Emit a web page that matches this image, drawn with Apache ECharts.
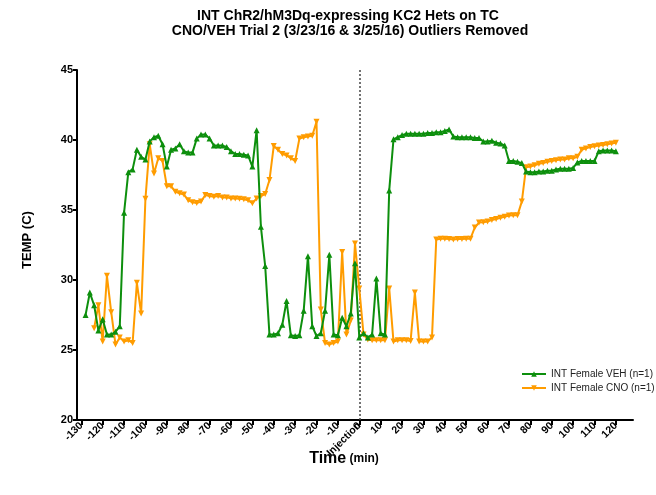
<!DOCTYPE html>
<html>
<head>
<meta charset="utf-8">
<script src="https://cdn.jsdelivr.net/npm/echarts@6/dist/echarts.min.js"></script>
<style>html,body{margin:0;padding:0;background:#fff}#c{width:656px;height:495px}</style>
</head>
<body>
<div id="c"></div>
<script>
// ---- data ----
const times = [-128,-126,-124,-122,-120,-118,-116,-114,-112,-110,-108,-106,-104,-102,-100,-98,-96,-94,-92,-90,-88,-86,-84,-82,-80,-78,-76,-74,-72,-70,-68,-66,-64,-62,-60,-58,-56,-54,-52,-50,-48,-46,-44,-42,-40,-38,-36,-34,-32,-30,-28,-26,-24,-22,-20,-18,-16,-14,-12,-10,-8,-6,-4,-2,
0,2,4,6,8,10,12,14,16,18,20,22,24,26,28,30,32,34,36,38,40,42,44,46,48,50,52,54,56,58,60,62,64,66,68,70,72,74,76,78,80,82,84,86,88,90,92,94,96,98,100,102,104,106,108,110,112,114,116,118,120];

const vehValues = [27.5,29.1,28.2,26.4,27.2,26.1,26.1,26.3,26.7,34.8,37.7,37.9,39.3,38.8,38.6,39.9,40.2,40.3,39.7,38.1,39.3,39.4,39.7,39.2,39.1,39.1,40.1,40.4,40.4,40.1,39.6,39.6,39.6,39.5,39.2,39.0,39.0,38.95,38.9,38.1,40.7,33.8,31.0,26.1,26.1,26.2,26.8,28.5,26.05,26.0,26.05,27.8,31.7,26.7,26.0,26.2,27.8,31.8,26.1,26.05,27.3,26.7,27.6,31.2,
25.9,26.2,25.9,26.1,30.1,26.2,26.1,36.4,40.05,40.2,40.35,40.45,40.45,40.45,40.45,40.45,40.5,40.5,40.55,40.55,40.65,40.75,40.25,40.2,40.2,40.2,40.2,40.15,40.15,39.9,39.9,39.95,39.8,39.75,39.6,38.5,38.5,38.45,38.35,37.75,37.7,37.7,37.75,37.75,37.8,37.8,37.9,37.95,37.95,37.95,38.0,38.4,38.5,38.5,38.5,38.5,39.2,39.25,39.25,39.25,39.2];

const cnoValues = [null,null,26.55,28.2,25.6,30.3,27.7,25.4,25.9,25.6,25.7,25.5,29.8,27.6,35.8,39.7,37.6,38.7,38.5,36.7,36.7,36.3,36.2,36.1,35.7,35.55,35.5,35.6,36.07,36.0,35.95,36.0,35.9,35.9,35.83,35.83,35.8,35.76,35.7,35.48,35.83,36.0,36.14,37.14,39.57,39.3,39.0,38.9,38.7,38.5,40.1,40.2,40.25,40.3,41.3,27.9,25.5,25.4,25.5,25.6,32.0,26.1,27.1,32.6,
29.4,26.1,25.75,25.7,25.7,25.7,25.7,29.4,25.6,25.7,25.7,25.7,25.65,29.1,25.6,25.6,25.6,25.9,32.9,32.95,32.95,32.93,32.9,32.93,32.93,32.95,32.95,33.75,34.1,34.12,34.17,34.29,34.36,34.45,34.52,34.6,34.62,34.62,35.6,38.05,38.1,38.2,38.3,38.35,38.45,38.5,38.55,38.6,38.6,38.7,38.7,38.8,39.3,39.4,39.5,39.55,39.6,39.65,39.7,39.75,39.8];

const xTicks = [-130,-120,-110,-100,-90,-80,-70,-60,-50,-40,-30,-20,-10,0,10,20,30,40,50,60,70,80,90,100,110,120];
const injectionTick = [0];
const seriesNames = ['INT Female VEH (n=1)', 'INT Female CNO (n=1)'];
const titleLines = ['INT ChR2/hM3Dq-expressing KC2 Hets on TC', 'CNO/VEH Trial 2 (3/23/16 & 3/25/16) Outliers Removed'];

// ---- chart ----
const FONT = 'Liberation Sans, Arial, Helvetica, sans-serif';
const GREEN = '#0d8f0d';
const ORANGE = '#ff9c00';
const pairs = (vals) => times.map((t, i) => [t, vals[i]]);

const chart = echarts.init(document.getElementById('c'), null, {renderer: 'canvas'});
chart.setOption({
  animation: false,
  backgroundColor: '#fff',
  textStyle: {fontFamily: FONT},
  grid: {left: 77, top: 70, right: 23, bottom: 75, containLabel: false},
  xAxis: [{
    type: 'value', min: -132, max: 128, position: 'bottom',
    splitLine: {show: false},
    axisLine: {show: true, onZero: false, lineStyle: {color: '#000', width: 2}},
    axisTick: {show: true, customValues: xTicks, length: 5, lineStyle: {color: '#000', width: 2}},
    axisLabel: {show: true, customValues: xTicks, rotate: 45, margin: 4, color: '#000', fontWeight: 'bold', fontSize: 10.5, fontFamily: FONT}
  }, {
    type: 'value', min: -132, max: 128, position: 'bottom', gridIndex: 0,
    splitLine: {show: false},
    axisLine: {show: false, onZero: false}, axisTick: {show: false},
    axisLabel: {show: true, customValues: injectionTick, rotate: 45, margin: 4, color: '#000', fontWeight: 'bold', fontSize: 10.5, fontFamily: FONT, formatter: () => 'Injection'}
  }],
  yAxis: {
    type: 'value', min: 20, max: 45, interval: 5,
    splitLine: {show: false},
    axisLine: {show: true, onZero: false, lineStyle: {color: '#000', width: 2}},
    axisTick: {show: true, length: 4, lineStyle: {color: '#000', width: 2}},
    axisLabel: {color: '#000', fontWeight: 'bold', fontSize: 11, margin: 4, fontFamily: FONT}
  },
  legend: {
    orient: 'vertical', left: 516, top: 364, itemGap: 4, itemWidth: 24, itemHeight: 7,
    textStyle: {fontSize: 10, color: '#222', fontFamily: FONT},
    data: seriesNames
  },
  series: [{
    name: seriesNames[0], type: 'line', data: pairs(vehValues),
    symbol: 'triangle', symbolSize: 6, showAllSymbol: true, z: 3,
    lineStyle: {color: GREEN, width: 2}, itemStyle: {color: GREEN},
    markLine: {
      silent: true, symbol: 'none', label: {show: false}, z: 1,
      lineStyle: {color: '#444', type: [2, 2], width: 1.5},
      data: [{xAxis: 0}]
    }
  }, {
    name: seriesNames[1], type: 'line', data: pairs(cnoValues),
    symbol: 'triangle', symbolRotate: 180, symbolSize: 6, showAllSymbol: true, z: 2,
    lineStyle: {color: ORANGE, width: 2}, itemStyle: {color: ORANGE}
  }],
  graphic: [
    {type: 'text', x: 348, y: 16, style: {text: titleLines[0], font: 'bold 14px ' + FONT, fill: '#000', textAlign: 'center', textVerticalAlign: 'middle'}},
    {type: 'text', x: 350, y: 31, style: {text: titleLines[1], font: 'bold 14px ' + FONT, fill: '#000', textAlign: 'center', textVerticalAlign: 'middle'}},
    {type: 'text', x: 27, y: 240, rotation: Math.PI / 2, style: {text: 'TEMP (C)', font: 'bold 13px ' + FONT, fill: '#000', textAlign: 'center', textVerticalAlign: 'middle'}},
    {type: 'text', x: 344, y: 459, style: {
      text: '{a|Time} {b|(min)}', textAlign: 'center', textVerticalAlign: 'middle',
      rich: {a: {font: 'bold 16px ' + FONT, fill: '#000'}, b: {font: 'bold 12px ' + FONT, fill: '#000'}}
    }}
  ]
});
</script>
</body>
</html>
